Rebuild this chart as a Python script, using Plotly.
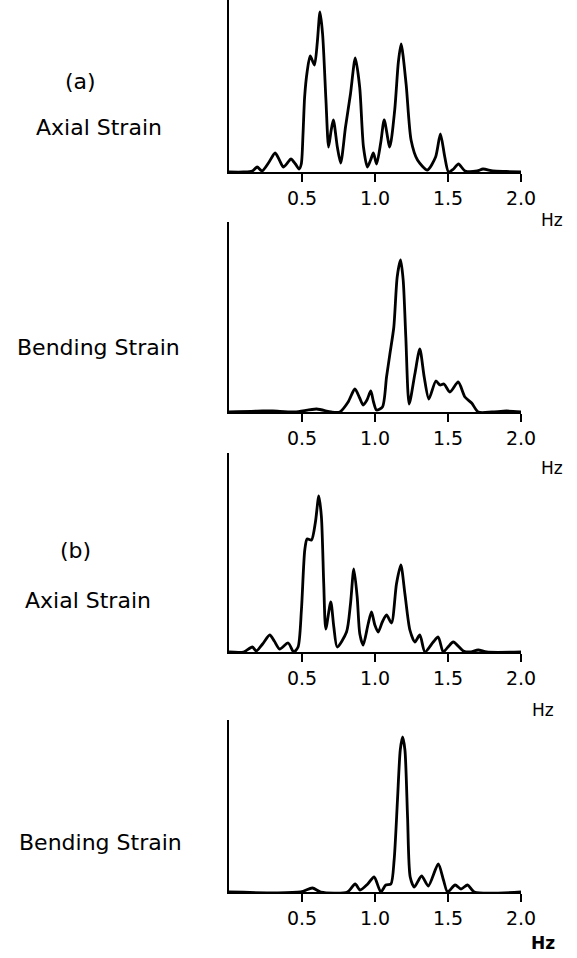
import plotly.graph_objects as go

# ---------------- data (frequency in Hz, spectral amplitude in arbitrary units) ----------------
a_axial_hz = [0.0, 0.10, 0.16, 0.193, 0.226, 0.27, 0.316, 0.345, 0.372, 0.40, 0.424, 0.455, 0.48, 0.495,
              0.507, 0.518, 0.535, 0.556, 0.585, 0.605, 0.623, 0.641, 0.664, 0.682, 0.700, 0.715, 0.742,
              0.765, 0.798, 0.832, 0.865, 0.895, 0.921, 0.948, 0.970, 0.989, 1.011, 1.040, 1.063, 1.101,
              1.135, 1.160, 1.179, 1.213, 1.247, 1.291, 1.359, 1.415, 1.448, 1.478, 1.504, 1.538, 1.572,
              1.617, 1.70, 1.74, 1.807, 1.90, 2.0]
a_axial_amp = [0, 0, 1, 5, 1, 9, 19, 12, 5, 9, 13, 8, 3, 8,
               38, 75, 100, 116, 107, 130, 160, 138, 72, 25, 42, 52, 25,
               9, 45, 78, 114, 85, 25, 5, 12, 19, 8, 30, 52, 25,
               62, 110, 128, 88, 32, 12, 2, 15, 38, 15, 0, 3, 8,
               1, 1, 3, 1, 0.5, 0]

a_bend_hz = [0.0, 0.23, 0.30, 0.45, 0.60, 0.70, 0.759, 0.816, 0.862, 0.895, 0.919, 0.945, 0.971, 0.99, 1.01,
             1.051, 1.079, 1.102, 1.129, 1.152, 1.175, 1.193, 1.211, 1.234, 1.273, 1.307, 1.337, 1.369,
             1.417, 1.445, 1.472, 1.513, 1.570, 1.616, 1.662, 1.707, 1.80, 1.90, 2.0]
a_bend_amp = [0, 1, 1, 0, 3, 0, 0, 10, 23, 14, 7, 12, 21, 10, 2,
              5, 35, 58, 85, 135, 152, 132, 75, 8, 38, 63, 35, 13,
              31, 27, 28, 20, 30, 15, 9, 0, 0, 1, 0]

b_axial_hz = [0.0, 0.10, 0.16, 0.187, 0.23, 0.279, 0.31, 0.347, 0.405, 0.443, 0.473, 0.496, 0.519, 0.535,
              0.565, 0.592, 0.615, 0.633, 0.649, 0.663, 0.697, 0.718, 0.741, 0.805, 0.832, 0.855, 0.878,
              0.896, 0.919, 0.953, 0.976, 0.999, 1.022, 1.05, 1.079, 1.113, 1.147, 1.177, 1.205, 1.239,
              1.273, 1.307, 1.342, 1.399, 1.433, 1.467, 1.50, 1.536, 1.605, 1.65, 1.707, 1.765, 2.0]
b_axial_amp = [0, 0, 5, 1, 8, 17, 11, 3, 9, 0, 5, 42, 102, 113,
               112, 130, 156, 135, 68, 23, 50, 25, 5, 20, 48, 83, 55,
               18, 7, 28, 40, 27, 20, 30, 37, 29, 68, 87, 58, 22,
               10, 17, 0, 10, 15, 0, 5, 10, 1, 0, 2, 0, 0]

b_bend_hz = [0.0, 0.49, 0.571, 0.629, 0.811, 0.864, 0.898, 0.95, 0.994, 1.04, 1.074, 1.109, 1.131, 1.154,
             1.173, 1.189, 1.205, 1.223, 1.241, 1.269, 1.319, 1.365, 1.433, 1.469, 1.497, 1.549, 1.589,
             1.634, 1.68, 2.0]
b_bend_amp = [0, 0, 4, 0, 0, 8, 2, 8, 15, 0, 7, 8, 32, 92,
              142, 155, 142, 75, 15, 5, 16, 6, 28, 12, 0, 7, 3,
              7, 0, 0]

x_tick_vals = [0.5, 1.0, 1.5, 2.0]
x_tick_text = ["0.5", "1.0", "1.5", "2.0"]

panels = [
    (a_axial_hz, a_axial_amp),
    (a_bend_hz, a_bend_amp),
    (b_axial_hz, b_axial_amp),
    (b_bend_hz, b_bend_amp),
]

# ---------------- layout geometry ----------------
W, H = 577, 958
panel_px = [(0, 172), (222, 412), (453, 652), (720, 892)]  # top, baseline (pixels)
x_dom = [229 / W, 521 / W]

FONT = "DejaVu Sans"

fig = go.Figure()
layout = dict(
    template="none",
    width=W, height=H, autosize=False,
    margin=dict(l=0, r=0, t=0, b=0, pad=0, autoexpand=False),
    paper_bgcolor="white", plot_bgcolor="white",
    showlegend=False,
    font=dict(family=FONT, color="black"),
)

for i, ((hz, amp), (top, base)) in enumerate(zip(panels, panel_px)):
    n = "" if i == 0 else str(i + 1)
    fig.add_trace(go.Scatter(
        x=hz, y=amp, mode="lines",
        line=dict(color="black", width=2.8, shape="spline", smoothing=0.7),
        xaxis="x" + n, yaxis="y" + n, hoverinfo="skip",
    ))
    ydom = [1 - base / H, 1 - top / H]
    layout["xaxis" + n] = dict(
        domain=x_dom, anchor="y" + n, range=[0, 2.0], automargin=False,
        showgrid=False, zeroline=False,
        showline=True, linecolor="black", linewidth=2,
        ticks="outside", ticklen=8, tickwidth=1.5, tickcolor="black",
        tickvals=x_tick_vals, ticktext=x_tick_text,
        tickfont=dict(family=FONT, size=19, color="black"),
        fixedrange=True,
    )
    layout["yaxis" + n] = dict(
        domain=ydom, anchor="x" + n, range=[0, base - top], automargin=False,
        showgrid=False, zeroline=False,
        showline=True, linecolor="black", linewidth=2,
        showticklabels=False, ticks="",
        fixedrange=True,
    )

fig.update_layout(**layout)

# ---------------- text labels ----------------
def px_ann(text, x, y, size, bold=False):
    fig.add_annotation(
        x=x / W, y=1 - y / H, xref="paper", yref="paper",
        text=("<b>%s</b>" % text) if bold else text,
        showarrow=False, xanchor="center", yanchor="middle",
        font=dict(family=FONT, size=size, color="black"),
    )

px_ann("(a)", 80, 82, 22)
px_ann("Axial Strain", 99, 127, 22)
px_ann("Bending Strain", 98, 347, 22)
px_ann("(b)", 75, 550, 22)
px_ann("Axial Strain", 88, 600, 22)
px_ann("Bending Strain", 100, 842, 22)

px_ann("Hz", 552, 220, 17)
px_ann("Hz", 552, 468, 17)
px_ann("Hz", 543, 710, 17)
px_ann("Hz", 543, 943, 17, bold=True)

fig.write_html("out.html", config={"responsive": False})
